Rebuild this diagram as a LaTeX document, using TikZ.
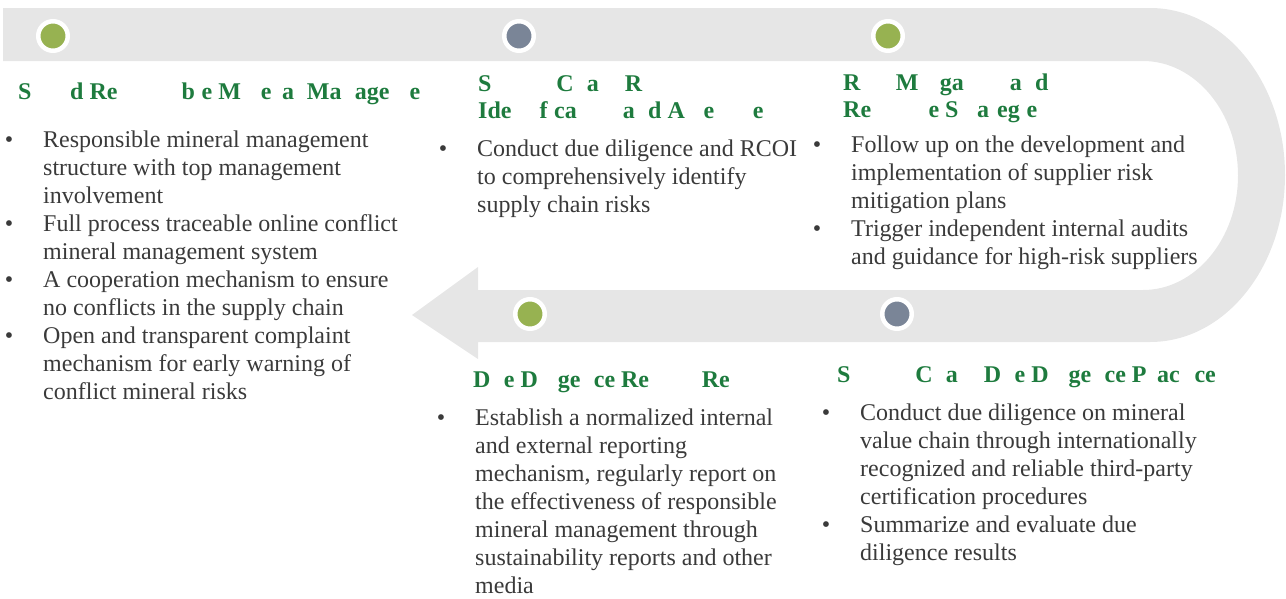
\documentclass[tikz,border=0pt]{standalone}
\usepackage{fontspec}
\setmainfont{Liberation Serif}
\usepackage{tikz}
\usetikzlibrary{calc,positioning}

\definecolor{bandgray}{HTML}{E6E6E6}
\definecolor{dotgreen}{HTML}{97B251}
\definecolor{dotgray}{HTML}{7A8597}
\definecolor{headgreen}{HTML}{1E7B3E}
\definecolor{bodygray}{HTML}{3A3A3A}

\newcommand{\hid}[1]{\phantom{#1}}
\newcommand{\bu}{\llap{\textbullet\hspace{30pt}}}
\newcommand{\pts}[1]{\fontsize{24}{28}\selectfont\begin{tabular}[t]{@{}l@{}}#1\end{tabular}}
\newcommand{\hds}[1]{\fontsize{24}{27}\selectfont\begin{tabular}[t]{@{}l@{}}#1\end{tabular}}

\begin{document}
\begin{tikzpicture}[x=1pt,y=-1pt,
    dot/.style={circle,draw=white,line width=4.5pt,minimum size=29.5pt,inner sep=0pt},
    head/.style={anchor=base west,inner sep=0pt,text=headgreen,font=\bfseries},
    body/.style={anchor=base west,inner sep=0pt,text=bodygray}]
  \useasboundingbox (0,0) rectangle (1286,598);

  % the band with its arrow
  \fill[bandgray] (3,8) -- (1150,8)
      .. controls (1225,8) and (1285,83) .. (1285,175)
      .. controls (1285,267) and (1225,342) .. (1150,342)
      -- (478,342) -- (478,359) -- (412,315) -- (478,267) -- (478,290)
      -- (1143,290)
      .. controls (1195,290) and (1238,239) .. (1238,175.5)
      .. controls (1238,112) and (1195,61) .. (1143,61)
      -- (3,61) -- cycle;

  \node[dot,fill=dotgreen] (d1) at (53,36)  {};
  \node[dot,fill=dotgray]  (d2) at (519,36) {};
  \node[dot,fill=dotgreen] (d3) at (888,36) {};
  \node[dot,fill=dotgreen] (d4) at (530,314) {};
  \node[dot,fill=dotgray]  (d5) at (897,314) {};

  \node[head] (h1) at (18,99)
    {\hds{S\hid{oun}d Re\hid{sponsi}b\hid{l}e M\hid{in}e\hid{r}a\hid{l} Ma\hid{n}age\hid{m}e}};
  \node[body] (t1) at (43,147) {\pts{
    \bu Responsible mineral management\\
    structure with top management\\
    involvement\\
    \bu Full process traceable online conflict\\
    mineral management system\\
    \bu A cooperation mechanism to ensure\\
    no conflicts in the supply chain\\
    \bu Open and transparent complaint\\
    mechanism for early warning of\\
    conflict mineral risks}};

  \node[head] (h2) at (478,91)
    {\hds{S\hid{upply} C\hid{h}a\hid{in} R\\
    Ide\hid{nti}f\hid{i}ca\hid{tion} a\hid{n}d A\hid{ss}e\hid{ssm}e}};
  \node[body] (t2) at (477,156) {\pts{
    \bu Conduct due diligence and RCOI\\
    to comprehensively identify\\
    supply chain risks}};

  \node[head] (h3) at (843,90)
    {\hds{R\hid{isk} M\hid{iti}ga\hid{tion} a\hid{n}d\\
    Re\hid{spons}e S\hid{tr}a\hid{t}eg\hid{i}e}};
  \node[body] (t3) at (851,152) {\pts{
    \bu Follow up on the development and\\
    implementation of supplier risk\\
    mitigation plans\\
    \bu Trigger independent internal audits\\
    and guidance for high-risk suppliers}};

  \node[head] (h4) at (473,387)
    {\hds{D\hid{u}e D\hid{ili}ge\hid{n}ce Re\hid{sults} Re}};
  \node[body] (t4) at (475,425) {\pts{
    \bu Establish a normalized internal\\
    and external reporting\\
    mechanism, regularly report on\\
    the effectiveness of responsible\\
    mineral management through\\
    sustainability reports and other\\
    media}};

  \node[head] (h5) at (837,382)
    {\hds{S\hid{upply} C\hid{h}a\hid{in} D\hid{u}e D\hid{ili}ge\hid{n}ce P\hid{r}ac\hid{ti}ce}};
  \node[body] (t5) at (860,420) {\pts{
    \bu Conduct due diligence on mineral\\
    value chain through internationally\\
    recognized and reliable third-party\\
    certification procedures\\
    \bu Summarize and evaluate due\\
    diligence results}};
\end{tikzpicture}
\end{document}
